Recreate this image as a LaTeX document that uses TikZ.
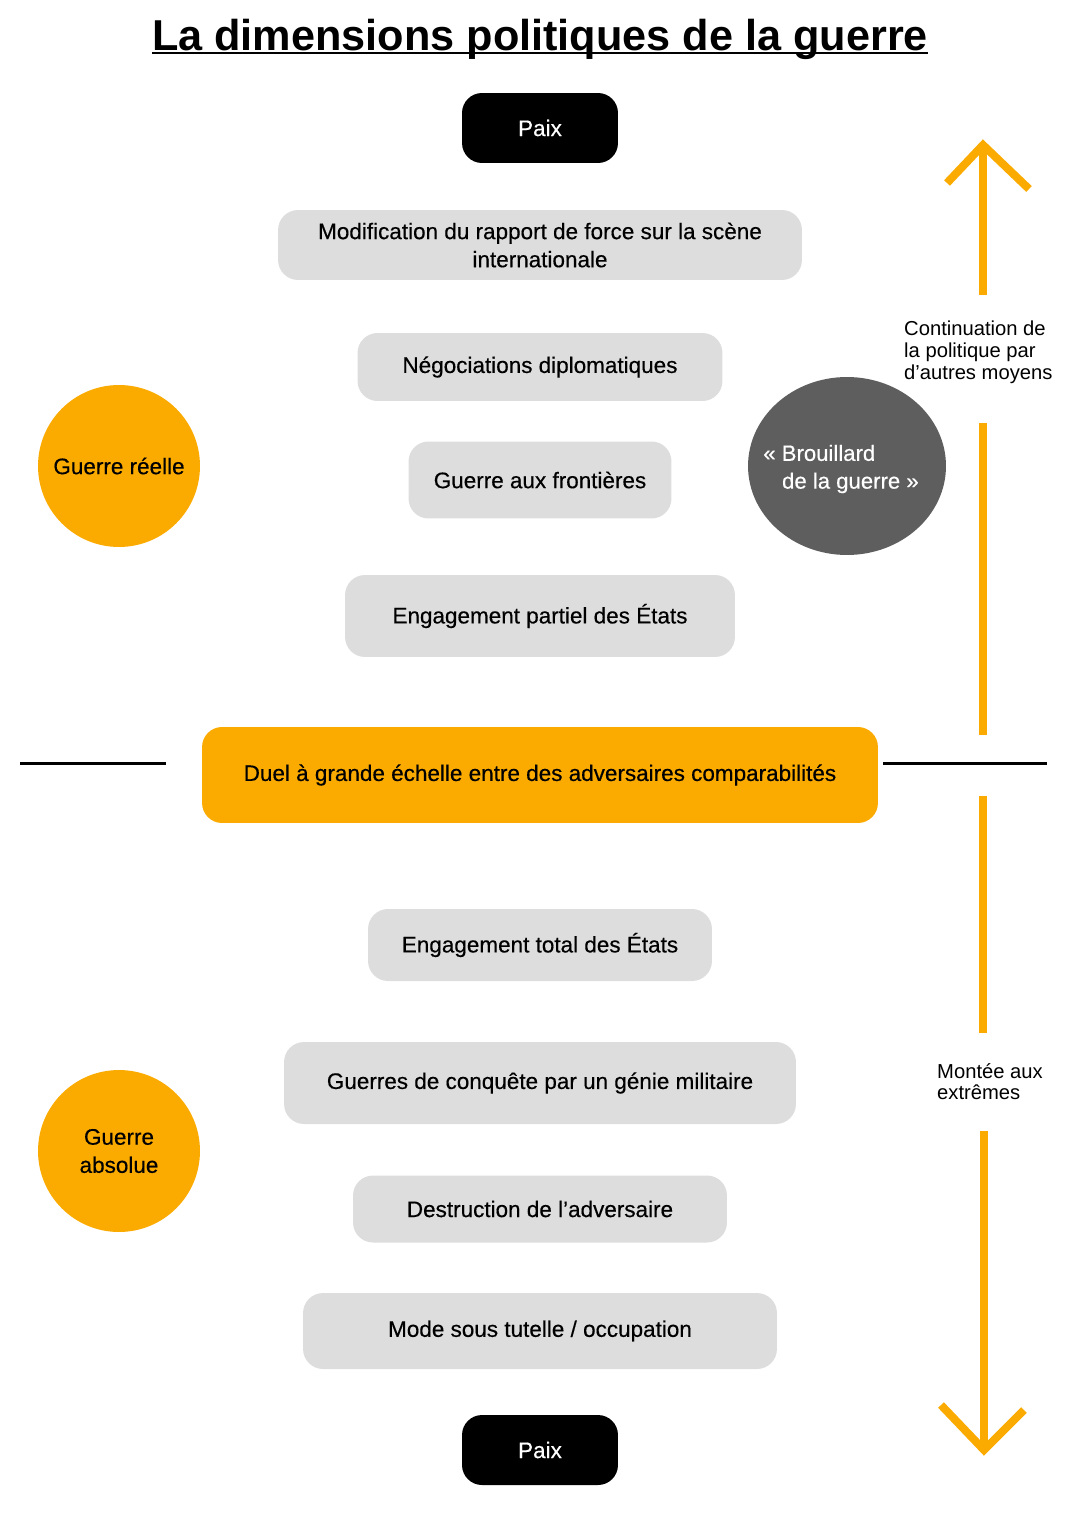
\documentclass[tikz,border=0pt]{standalone}
\usepackage{fontspec}
\setmainfont{Liberation Sans}
\newfontfamily\medium[FakeBold=0.4]{Liberation Sans}
\usepackage{tikz}
\usetikzlibrary{shapes.geometric}

\definecolor{warm}{HTML}{FBAB00}
\definecolor{pale}{HTML}{DDDDDD}
\definecolor{fog}{HTML}{5E5E5E}

\tikzset{
  stage/.style={fill=pale, rounded corners=0.4cm, align=center, font=\medium\fontsize{12.8}{16}\selectfont},
  paixbox/.style={fill=black, text=white, rounded corners=0.4cm, minimum width=3.12cm, minimum height=1.4cm, font=\medium\fontsize{12.8}{16}\selectfont},
  disc/.style={circle, fill=warm, minimum size=3.24cm, align=center, font=\medium\fontsize{12.8}{16}\selectfont},
  trend/.style={draw=warm, line width=0.16cm},
  note/.style={align=left, anchor=north west, font=\fontsize{11.5}{12.4}\selectfont}
}

\begin{document}
\begin{tikzpicture}[x=0.02cm, y=-0.02cm]
        \useasboundingbox (0,0) rectangle (1080,1527);

        % Title
        \node (title) at (540,39) {\fontsize{24.6}{30}\selectfont\bfseries La dimensions politiques de la guerre};
        \draw[line width=0.05cm] (152,53) -- (928,53); % underline

        % The ladder of stages
        \node[paixbox] (paixtop) at (540,128) {Paix};
        \node[stage, minimum width=10.48cm, minimum height=1.4cm] (rapport) at (540,245) {Modification du rapport de force sur la scène\\internationale};
        \node[stage, minimum width=7.3cm, minimum height=1.36cm] (nego) at (540,367) {Négociations diplomatiques};
        \node[stage, minimum width=5.26cm, minimum height=1.54cm] (front) at (540,480) {Guerre aux frontières};
        \node[stage, minimum width=7.8cm, minimum height=1.64cm] (partiel) at (540,616) {Engagement partiel des États};
        \node[stage, fill=warm, minimum width=13.52cm, minimum height=1.92cm] (duel) at (540,775) {Duel à grande échelle entre des adversaires comparabilités};
        \node[stage, minimum width=6.88cm, minimum height=1.44cm] (total) at (540,945) {Engagement total des États};
        \node[stage, minimum width=10.24cm, minimum height=1.64cm] (conquete) at (540,1083) {Guerres de conquête par un génie militaire};
        \node[stage, minimum width=7.48cm, minimum height=1.34cm] (destruction) at (540,1209) {Destruction de l’adversaire};
        \node[stage, minimum width=9.48cm, minimum height=1.52cm] (tutelle) at (540,1331) {Mode sous tutelle / occupation};
        \node[paixbox] (paixbottom) at (540,1450) {Paix};

        % Side circles
        \node[disc] (reelle) at (119,466) {Guerre réelle};
        \node[disc] (absolue) at (119,1151) {Guerre\\absolue};
        \node[ellipse, fill=fog, minimum width=3.96cm, minimum height=3.56cm] (brouillard) at (847,466) {};
        \node[text=white, align=left, font=\medium\fontsize{12.6}{15.8}\selectfont] (brouillardtxt) at (841,469) {« Brouillard\\\hspace*{0.85em}de la guerre »};

        % Dividing line
        \coordinate (lineA) at (20,763);
        \coordinate (lineB) at (166,763);
        \coordinate (lineC) at (883,763);
        \coordinate (lineD) at (1047,763);
        \draw[line width=0.06cm] (lineA) -- (lineB);
        \draw[line width=0.06cm] (lineC) -- (lineD);

        % Upward arrow
        \coordinate (uptip) at (983,145);
        \draw[trend] (983,295) -- (uptip);
        \draw[trend] (947,183) -- (uptip) -- (1029,189);
        \draw[trend] (983,423) -- (983,735);
        \node[note] (continuation) at (898,315) {Continuation de\\la politique par\\d’autres moyens};

        % Downward arrow
        \coordinate (downtip) at (984,1450);
        \draw[trend] (983,796) -- (983,1033);
        \draw[trend] (984,1131) -- (downtip);
        \draw[trend] (941,1405) -- (downtip) -- (1024,1410);
        \node[note] (montee) at (931,1057) {Montée aux\\extrêmes};

    \end{tikzpicture}
\end{document}
